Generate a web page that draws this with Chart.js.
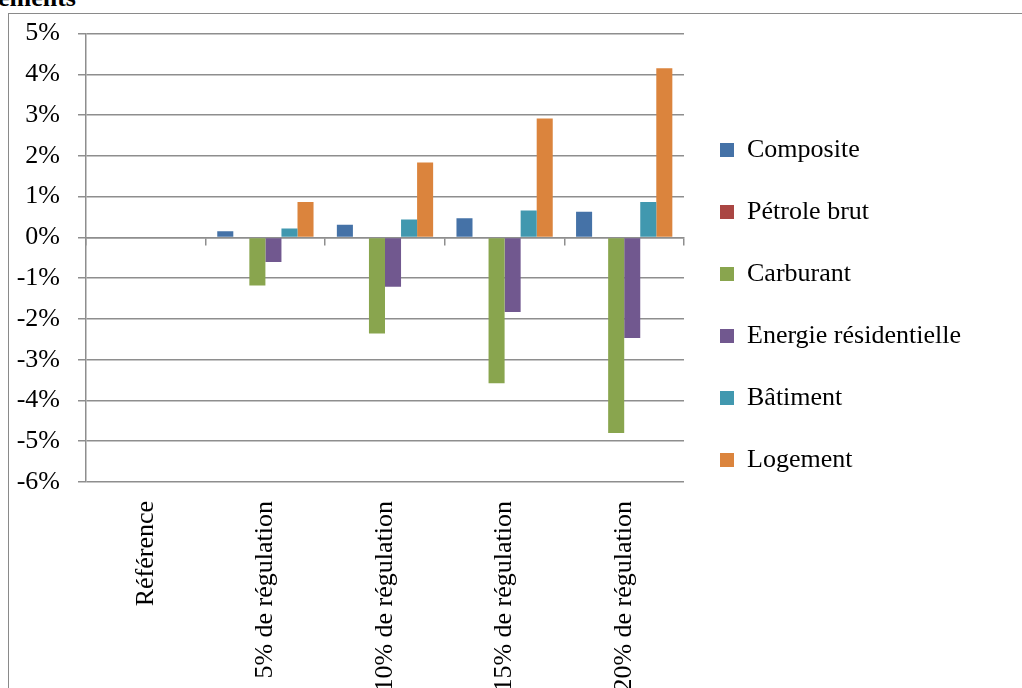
<!DOCTYPE html>
<html>
<head>
<meta charset="utf-8">
<script src="https://cdn.jsdelivr.net/npm/chart.js@4/dist/chart.umd.min.js"></script>
<style>
  html, body { margin: 0; padding: 0; background: #fff; overflow: hidden; width: 1022px; height: 688px; }
  #cadre { position: absolute; left: 8px; top: 13px; width: 1100px; height: 800px; border: 1px solid #8a8a8a; }
  #titre { position: absolute; left: -300px; top: -15px; width: 376px; text-align: right;
           font: bold 26px 'Liberation Serif', 'Times New Roman', serif; line-height: 26px; color: #000; }
  #graf { position: absolute; left: 0; top: 0; }
</style>
</head>
<body>
<div id="cadre"></div>
<div id="titre">Logements</div>
<canvas id="graf" width="1022" height="820" style="width:1022px;height:820px"></canvas>
<script>
const categories = ['Référence', '5% de régulation', '10% de régulation', '15% de régulation', '20% de régulation'];
const composite = [0, 0.15, 0.31, 0.47, 0.63];
const petroleBrut = [0, 0, 0, 0, 0];
const carburant = [0, -1.18, -2.36, -3.58, -4.8];
const energieResidentielle = [0, -0.6, -1.21, -1.83, -2.47];
const batiment = [0, 0.22, 0.44, 0.66, 0.87];
const logement = [0, 0.87, 1.84, 2.92, 4.15];
const yTicks = [-6, -5, -4, -3, -2, -1, 0, 1, 2, 3, 4, 5];

const serif = "'Liberation Serif', 'Times New Roman', serif";
const gris = '#8e8e8e';

// the plot stops at x=684; legend box kept small for the layout, then widened
const largeurLegende = 200;
const padDroite = 1022 - 684 - largeurLegende;

const elargirLegende = {
    id: 'elargirLegende',
    afterLayout: function (chart) {
        chart.legend.right = 1022;
        chart.legend.width = chart.legend.right - chart.legend.left;
    }
};

const ctx = document.getElementById('graf').getContext('2d');
const myChart = new Chart(ctx, {
    type: 'bar',
    data: {
        labels: categories,
        datasets: [
            { label: 'Composite', data: composite, backgroundColor: '#4572A7' },
            { label: 'Pétrole brut', data: petroleBrut, backgroundColor: '#AA4643' },
            { label: 'Carburant', data: carburant, backgroundColor: '#89A54E' },
            { label: 'Energie résidentielle', data: energieResidentielle, backgroundColor: '#71588F' },
            { label: 'Bâtiment', data: batiment, backgroundColor: '#4198AF' },
            { label: 'Logement', data: logement, backgroundColor: '#DB843D' }
        ]
    },
    plugins: [elargirLegende],
    options: {
        responsive: false,
        animation: false,
        categoryPercentage: 0.805,
        barPercentage: 1,
        borderWidth: 0,
        layout: { padding: { top: 31, left: 0, right: padDroite, bottom: 0 } },
        plugins: {
            tooltip: { enabled: false },
            legend: {
                position: 'right',
                align: 'start',
                maxWidth: largeurLegende,
                title: { display: true, text: '', font: { size: 12 }, padding: { top: 55.6, bottom: 0 } },
                labels: {
                    boxWidth: 14,
                    boxHeight: 14,
                    padding: 36,
                    color: '#000',
                    font: { family: serif, size: 26 }
                }
            }
        },
        scales: {
            x: {
                grid: { display: false, drawTicks: false },
                border: { display: false },
                ticks: {
                    autoSkip: false,
                    minRotation: 90,
                    maxRotation: 90,
                    padding: 19,
                    color: '#000',
                    font: { family: serif, size: 26 }
                },
                afterFit: function (axis) { axis.height = 338; }
            },
            x2: {
                type: 'category',
                labels: categories,
                position: { y: 0 },
                grid: { drawOnChartArea: false, offset: true, tickLength: 7, color: gris, lineWidth: 1.5 },
                border: { display: true, color: gris, width: 1.5 },
                ticks: { display: false }
            },
            y: {
                min: -6,
                max: 5,
                afterBuildTicks: function (axis) {
                    axis.ticks = yTicks.map(function (v) { return { value: v }; });
                },
                grid: { color: gris, lineWidth: 1.5, tickLength: 8 },
                border: { display: true, color: gris, width: 1.5 },
                ticks: {
                    padding: 18,
                    color: '#000',
                    font: { family: serif, size: 26 },
                    callback: function (v) { return v + '%'; }
                },
                afterFit: function (axis) { axis.width = 86; }
            }
        }
    }
});
</script>
</body>
</html>
